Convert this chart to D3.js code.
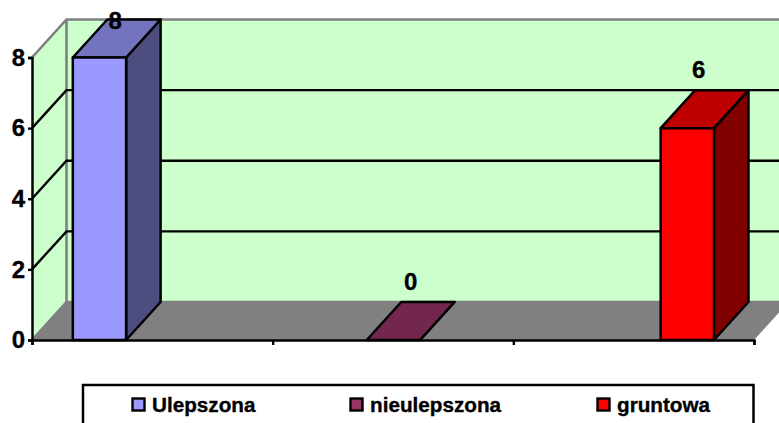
<!DOCTYPE html>
<html>
<head>
<meta charset="utf-8">
<script src="https://cdn.jsdelivr.net/npm/d3@7"></script>
<style>
  html, body {margin: 0; background: #fff; overflow: hidden;}
  text {font-family: 'Liberation Sans', Arial, sans-serif; font-weight: bold; fill: #000; stroke: #000; stroke-width: .35px;}
</style>
</head>
<body>
<div id="graph"></div>
<script>
var seriesNames = ['Ulepszona', 'nieulepszona', 'gruntowa']
var seriesValues = [8, 0, 6]
var faceColors = ['#9999ff', '#993366', '#ff0000']
var topColors = ['#7373bf', '#732650', '#bf0000']
var sideColors = ['#4d4d80', '#4d1a33', '#800000']
var yTicks = [0, 2, 4, 6, 8]
var xTicks = [0, 1, 2, 3]
var gridTicks = [2, 4, 6]
var legendX = [132, 350, 597]
var labelShift = [-1.5, 0, -6]

var width = 779, height = 423
var dx = 34.5, dy = -38 // depth of the fake 3d

var svg = d3.select('#graph').append('svg')
  .attr('width', width).attr('height', height)
  .style('display', 'block')

var y = d3.scaleLinear().domain([0, 8]).range([340, 57.5])
var x = d3.scaleBand().domain(seriesNames).range([32.4, 754.4])
  .paddingInner(0.8187).paddingOuter(0.1375)
var xTick = d3.scalePoint().domain(xTicks).range([32, 754])

var x0 = 32, x1 = 754
var poly = pts => 'M' + pts.join('L') + 'Z'

// walls and floor
svg.append('path')
  .attr('d', poly([[x0, y(0)], [x0, y(8)], [x0 + dx, y(8) + dy], [x1 + dx, y(8) + dy], [x1 + dx, y(0) + dy], [x0 + dx, y(0) + dy]]))
  .attr('fill', '#ccffcc')
svg.append('path')
  .attr('d', poly([[x0, y(0)], [x1, y(0)], [x1 + dx, y(0) + dy], [x0 + dx, y(0) + dy]]))
  .attr('fill', '#808080')

// wall edges
svg.append('path')
  .attr('d', `M${x0},${y(8)}L${x0 + dx},${y(8) + dy}L${x1 + dx},${y(8) + dy}M${x0 + dx},${y(8) + dy}L${x0 + dx},${y(0) + dy}L${x1 + dx},${y(0) + dy}M${x0 + dx},${y(0) + dy}L${x0},${y(0)}`)
  .attr('fill', 'none').attr('stroke', '#808080').attr('stroke-width', 2.6)

// gridlines
svg.selectAll('.grid').data(gridTicks).join('path')
  .attr('class', 'grid')
  .attr('d', d => `M${x0},${y(d)}L${x0 + dx},${y(d) + dy}L${x1 + dx},${y(d) + dy}`)
  .attr('fill', 'none').attr('stroke', '#000').attr('stroke-width', 2.4)

// bars
var bars = svg.selectAll('.bar').data(seriesValues).join('g').attr('class', 'bar')
var bw = x.bandwidth()

function barX(i){ return x(seriesNames[i]) }

bars.append('path')
  .attr('d', (d, i) => poly([[barX(i) + bw, y(d)], [barX(i) + bw + dx, y(d) + dy], [barX(i) + bw + dx, y(0) + dy], [barX(i) + bw, y(0)]]))
  .attr('fill', (d, i) => sideColors[i])
bars.append('path')
  .attr('d', (d, i) => poly([[barX(i), y(d)], [barX(i) + dx, y(d) + dy], [barX(i) + bw + dx, y(d) + dy], [barX(i) + bw, y(d)]]))
  .attr('fill', (d, i) => topColors[i])
bars.append('rect')
  .attr('x', (d, i) => barX(i)).attr('y', d => y(d))
  .attr('width', bw).attr('height', d => y(0) - y(d))
  .attr('fill', (d, i) => faceColors[i])
bars.selectAll('path,rect')
  .attr('stroke', '#000').attr('stroke-width', 2.5).attr('stroke-linejoin', 'round')

// value labels
bars.append('text')
  .attr('x', (d, i) => barX(i) + bw/2 + dx/2 + labelShift[i])
  .attr('y', d => Math.max(y(d) + dy - 21, 20))
  .attr('dy', '0.36em')
  .attr('text-anchor', 'middle')
  .style('font-size', '24px')
  .text(d => d)

// axes
var yAxis = d3.axisLeft(y).tickValues(yTicks).tickSize(4).tickPadding(3)
var xAxis = d3.axisBottom(xTick).tickSize(5).tickFormat('')

var yG = svg.append('g').attr('transform', `translate(${x0},0)`).call(yAxis)
var xG = svg.append('g').attr('transform', `translate(0,${y(0)})`).call(xAxis)

svg.selectAll('.domain').attr('stroke', '#000').attr('stroke-width', 2.5)
svg.selectAll('.tick line').attr('stroke', '#000').attr('stroke-width', 2.4)
yG.selectAll('text')
  .style('font-size', '24px').style('font-family', "'Liberation Sans', Arial, sans-serif")
  .style('font-weight', 'bold').attr('fill', '#000')

// legend
svg.append('rect')
  .attr('x', 83).attr('y', 385).attr('width', 670.5).attr('height', 60)
  .attr('fill', '#fff').attr('stroke', '#000').attr('stroke-width', 2.5)

var legend = svg.selectAll('.legend').data(seriesNames).join('g')
  .attr('class', 'legend')
  .attr('transform', (d, i) => `translate(${legendX[i]},398)`)
legend.append('rect')
  .attr('x', 0.5).attr('y', 0.5).attr('width', 12).attr('height', 12)
  .attr('fill', (d, i) => faceColors[i])
  .attr('stroke', '#000').attr('stroke-width', 2.4)
legend.append('text')
  .attr('x', 20).attr('y', 14)
  .style('font-size', '20.7px')
  .text(d => d)
</script>
</body>
</html>
